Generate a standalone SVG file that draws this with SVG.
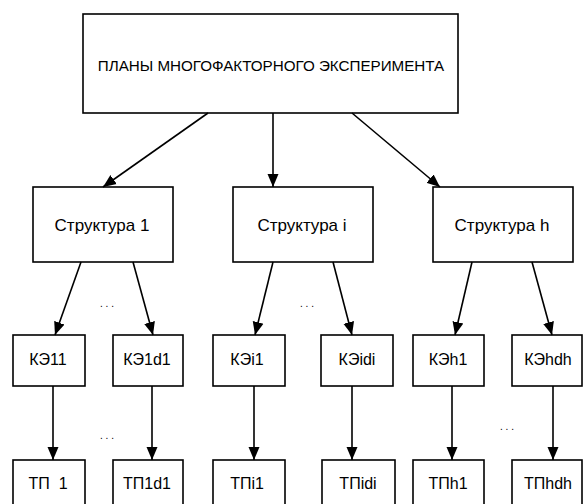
<svg xmlns="http://www.w3.org/2000/svg" width="584" height="504" viewBox="0 0 584 504">
<defs>
<marker id="ah" markerUnits="userSpaceOnUse" markerWidth="14" markerHeight="12" refX="13" refY="6" orient="auto">
<path d="M0,0.5 L13,6 L0,11.5 Z" fill="#000"/>
</marker>
<style>
rect{fill:#fff;stroke:#000;stroke-width:1.6}
text{font-family:"Liberation Sans",Arial,sans-serif;font-size:16px;fill:#000;text-anchor:middle;dominant-baseline:central;white-space:pre}
.t{font-size:15.2px}
.s{font-size:17px}
.c line{stroke:#000;stroke-width:1.6;marker-end:url(#ah)}
.dots{font-size:10px}
</style>
</defs>
<rect x="0" y="0" width="584" height="504" style="fill:#fff;stroke:none"/>
<g id="root"><rect x="83" y="14" width="375" height="99"/><text class="t" x="271" y="65">ПЛАНЫ МНОГОФАКТОРНОГО ЭКСПЕРИМЕНТА</text></g>
<g id="s1"><rect x="33" y="187" width="140" height="75"/><text class="s" x="102" y="225">Структура 1</text></g>
<g id="si"><rect x="233" y="187" width="140" height="75"/><text class="s" x="302" y="225">Структура i</text></g>
<g id="sh"><rect x="433" y="187" width="140" height="75"/><text class="s" x="502" y="225">Структура h</text></g>
<g id="k11"><rect x="13" y="335" width="72" height="51"/><text x="48" y="359">КЭ11</text></g>
<g id="k1d1"><rect x="113" y="335" width="70" height="51"/><text x="147" y="359">КЭ1d1</text></g>
<g id="ki1"><rect x="213" y="335" width="72" height="51"/><text x="247" y="359">КЭi1</text></g>
<g id="kidi"><rect x="321" y="335" width="72" height="51"/><text x="357" y="359">КЭidi</text></g>
<g id="kh1"><rect x="413" y="335" width="71" height="51"/><text x="448" y="359">КЭh1</text></g>
<g id="khdh"><rect x="512" y="335" width="70" height="51"/><text x="548" y="359">КЭhdh</text></g>
<g id="t11"><rect x="13" y="460" width="72" height="60"/><text x="48" y="483">ТП  1</text></g>
<g id="t1d1"><rect x="113" y="460" width="70" height="60"/><text x="147" y="483">ТП1d1</text></g>
<g id="ti1"><rect x="213" y="460" width="72" height="60"/><text x="247" y="483">ТПi1</text></g>
<g id="tidi"><rect x="322" y="460" width="73" height="60"/><text x="358" y="483">ТПidi</text></g>
<g id="th1"><rect x="413" y="460" width="71" height="60"/><text x="448" y="483">ТПh1</text></g>
<g id="thdh"><rect x="512" y="460" width="70" height="60"/><text x="548" y="483">ТПhdh</text></g>
<g class="c" id="connectors">
<line x1="208" y1="113" x2="103" y2="187"/>
<line x1="273" y1="113" x2="273" y2="187"/>
<line x1="352" y1="113" x2="440" y2="187"/>
<line x1="81" y1="262" x2="55" y2="335"/>
<line x1="133" y1="262" x2="153" y2="335"/>
<line x1="273" y1="262" x2="255" y2="335"/>
<line x1="333" y1="262" x2="352" y2="335"/>
<line x1="472" y1="262" x2="455" y2="335"/>
<line x1="532" y1="262" x2="552" y2="335"/>
<line x1="53" y1="386" x2="53" y2="460"/>
<line x1="152" y1="386" x2="152" y2="460"/>
<line x1="254" y1="386" x2="254" y2="460"/>
<line x1="352" y1="386" x2="352" y2="460"/>
<line x1="452" y1="386" x2="452" y2="460"/>
<line x1="553" y1="386" x2="553" y2="460"/>
</g>
<text class="dots" x="107" y="303">. . .</text>
<text class="dots" x="307" y="303">. . .</text>
<text class="dots" x="107" y="435">. . .</text>
<text class="dots" x="507" y="426">. . .</text>
</svg>
